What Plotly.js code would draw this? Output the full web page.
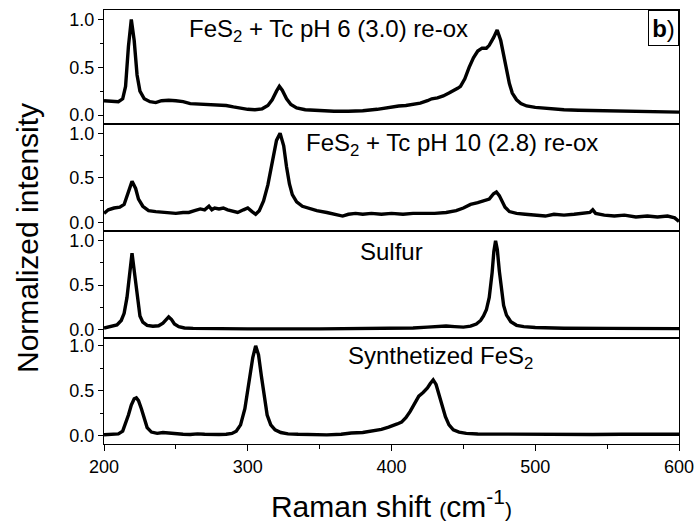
<!DOCTYPE html>
<html>
<head>
<meta charset="utf-8">
<script src="https://cdn.plot.ly/plotly-3.0.1.min.js"></script>
<style>html,body{margin:0;padding:0;background:#fff;}</style>
</head>
<body>
<div id="chart" style="width:696px;height:529px;"></div>
<script>
// ---- Data ----
const ph6X = [200,205,210,213,215,217,219,221,223,225,228,232,236,240,245,250,255,260,265,270,275,280,285,290,295,300,305,310,314,317,320,322,324,327,330,334,340,350,360,370,380,390,400,405,410,415,420,425,428,432,436,440,444,446,448,451,454,457,460,463,466,468,471,473.5,476,478,480,482,484,487,490,494,500,510,520,530,545,560,575,590,600];
const ph6Y = [0.15,0.145,0.14,0.17,0.30,0.72,1.0,0.78,0.42,0.25,0.17,0.14,0.13,0.15,0.155,0.15,0.14,0.12,0.115,0.11,0.105,0.10,0.10,0.085,0.07,0.06,0.055,0.065,0.10,0.16,0.25,0.30,0.26,0.17,0.11,0.075,0.055,0.045,0.04,0.04,0.045,0.06,0.085,0.095,0.10,0.11,0.125,0.15,0.17,0.18,0.20,0.23,0.26,0.28,0.30,0.38,0.50,0.60,0.67,0.70,0.70,0.73,0.81,0.89,0.78,0.62,0.48,0.33,0.23,0.16,0.12,0.095,0.08,0.065,0.055,0.05,0.045,0.04,0.035,0.03,0.03];

const ph10X = [200,203,207,211,214,217,219.5,222,224,227,231,236,241,246,250,255,259,263,267,270,273,275,277,280,283,286,290,293,297,300,303,305.5,308,311,314,317,320,322.5,325,327,329,331,334,338,343,348,355,362,366,370,375,380,386,393,400,408,415,422,430,438,445,450,455,460,465,468,471,473,475,477,479,482,487,493,500,507,513,520,527,533,538,540,542,548,555,562,570,578,585,592,597,600];
const ph10Y = [0.10,0.14,0.16,0.17,0.20,0.33,0.46,0.38,0.26,0.18,0.13,0.12,0.11,0.10,0.10,0.11,0.11,0.13,0.15,0.14,0.18,0.14,0.16,0.15,0.16,0.14,0.12,0.11,0.14,0.16,0.12,0.09,0.13,0.24,0.42,0.67,0.92,1.0,0.86,0.62,0.43,0.31,0.23,0.18,0.15,0.13,0.11,0.09,0.07,0.09,0.10,0.09,0.10,0.09,0.10,0.09,0.10,0.10,0.10,0.11,0.13,0.16,0.20,0.22,0.24,0.26,0.32,0.34,0.30,0.24,0.17,0.12,0.10,0.09,0.08,0.07,0.09,0.08,0.09,0.10,0.11,0.14,0.10,0.08,0.07,0.08,0.06,0.07,0.06,0.07,0.05,0.01];

const sulfurX = [200,205,209,212,214,216,217.5,219.5,221.5,223,225,227,230,234,238,241,243,245,247,249,252,256,262,270,300,350,400,415,425,432,438,444,450,455,459,462,464,466,468,470,471.2,472.4,473.6,475,476.5,478,480,483,487,492,500,520,550,600];
const sulfurY = [0.015,0.03,0.05,0.10,0.18,0.36,0.60,0.86,0.60,0.37,0.15,0.08,0.045,0.035,0.04,0.07,0.11,0.14,0.11,0.06,0.03,0.015,0.01,0.008,0.005,0.005,0.008,0.015,0.025,0.035,0.037,0.03,0.025,0.035,0.06,0.10,0.15,0.22,0.36,0.64,0.88,1.0,0.90,0.66,0.45,0.27,0.16,0.085,0.045,0.03,0.02,0.012,0.01,0.008];

const synthX = [200,205,210,213,215,217,219,221,222.5,224,226,228,230,233,237,241,245,250,255,260,265,270,275,280,285,289,292,295,298,301,303.5,305.5,307.5,309.5,311.5,313.5,316,319,323,328,335,345,355,365,372,380,387,393,398,401,404,407,410,413,416,419,422,425,427,429,431,433,435,437.5,440,443,447,452,460,480,500,520,540,560,580,600];
const synthY = [0.01,0.012,0.02,0.05,0.13,0.23,0.34,0.41,0.42,0.39,0.30,0.19,0.09,0.04,0.025,0.035,0.03,0.015,0.015,0.012,0.02,0.015,0.01,0.012,0.015,0.025,0.05,0.12,0.30,0.60,0.87,1.0,0.90,0.66,0.42,0.23,0.12,0.065,0.035,0.02,0.015,0.01,0.008,0.015,0.03,0.035,0.05,0.07,0.095,0.11,0.13,0.15,0.20,0.27,0.36,0.44,0.48,0.53,0.58,0.62,0.57,0.46,0.33,0.21,0.12,0.065,0.04,0.025,0.018,0.015,0.012,0.014,0.012,0.015,0.012,0.015];

const panelLabels = ["FeS<sub>2</sub> + Tc pH 6 (3.0) re-ox", "FeS<sub>2</sub> + Tc pH 10 (2.8) re-ox", "Sulfur", "Synthetized FeS<sub>2</sub>"];
const xTickVals = [200, 300, 400, 500, 600];
const yTickVals = [0, 0.5, 1.0];
const yTickText = ["0.0", "0.5", "1.0"];

// ---- Chart ----
const FONT = "Liberation Sans, Arial, Helvetica, sans-serif";
const series = [[ph6X, ph6Y], [ph10X, ph10Y], [sulfurX, sulfurY], [synthX, synthY]];
const traces = series.map((s, i) => ({
  x: s[0], y: s[1], type: 'scatter', mode: 'lines',
  xaxis: 'x' + (i + 1), yaxis: 'y' + (i + 1),
  line: {color: '#000', width: 3.4}, showlegend: false, hoverinfo: 'skip'
}));

const domains = [[0.7373, 1], [0.4908, 0.7373], [0.2449, 0.4908], [0, 0.2449]];
const yRanges = [[-0.094, 1.10], [-0.098, 1.104], [-0.095, 1.11], [-0.093, 1.09]];

const layout = {
  width: 696, height: 529,
  margin: {l: 104, r: 17, t: 10, b: 85},
  paper_bgcolor: '#fff', plot_bgcolor: '#fff',
  font: {family: FONT, color: '#000'},
  showlegend: false,
  annotations: [],
};

for (let i = 0; i < 4; i++) {
  const n = i + 1;
  const last = (i === 3);
  const xa = {
    anchor: 'y' + n, range: [200, 600], domain: [0, 1],
    showline: true, mirror: true, linecolor: '#000', linewidth: 1,
    showgrid: false, zeroline: false,
    showticklabels: last, ticks: last ? 'outside' : '',
    tickvals: xTickVals, ticklen: 6, tickwidth: 1, tickcolor: '#000',
    tickfont: {size: 18, family: FONT, color: '#000'}
  };
  if (last) {
    xa.minor = {tickvals: [250, 350, 450, 550], ticks: 'outside', ticklen: 4, tickwidth: 1, tickcolor: '#000', showgrid: false};
    xa.title = {text: "Raman shift <span style='font-size:21px'>(</span>cm<sup>-1</sup><span style='font-size:21px'>)</span>", font: {size: 30, family: FONT, color: '#000'}, standoff: 20};
  }
  layout['xaxis' + n] = xa;
  layout['yaxis' + n] = {
    anchor: 'x' + n, domain: domains[i], range: yRanges[i],
    showline: true, mirror: true, linecolor: '#000', linewidth: 1,
    showgrid: false, zeroline: false,
    ticks: 'outside', ticklen: 5, tickwidth: 1, tickcolor: '#000',
    tickvals: yTickVals, ticktext: yTickText,
    tickfont: {size: 18, family: FONT, color: '#000'},
    minor: {tickvals: [0.25, 0.75], ticks: 'outside', ticklen: 3, tickwidth: 1, tickcolor: '#000', showgrid: false}
  };
}

// panel labels
const labelPos = [[257.6, 0.89], [339.4, 0.87], [400, 0.88], [368.3, 0.873]];
const labelAnchor = ['left', 'left', 'center', 'left'];
for (let i = 0; i < 4; i++) {
  layout.annotations.push({
    xref: 'x' + (i + 1), yref: 'y' + (i + 1),
    x: labelPos[i][0], y: labelPos[i][1],
    xanchor: labelAnchor[i], yanchor: 'middle',
    text: panelLabels[i], showarrow: false,
    font: {size: 24, family: FONT, color: '#000'}
  });
}
// y title
layout.annotations.push({
  xref: 'paper', yref: 'paper', x: (28 - 104) / 575, y: (444 - 238) / 434,
  xanchor: 'center', yanchor: 'middle', textangle: -90,
  text: 'Normalized intensity', showarrow: false,
  font: {size: 30, family: FONT, color: '#000'}
});
// panel tag
layout.annotations.push({
  xref: 'paper', yref: 'paper', x: 1, y: 1, xanchor: 'right', yanchor: 'top',
  text: '<b>b</b>)', showarrow: false, width: 29, height: 34, borderpad: 0,
  bordercolor: '#000', borderwidth: 1, bgcolor: '#fff',
  font: {size: 24, family: FONT, color: '#000'}
});

Plotly.newPlot('chart', traces, layout, {displayModeBar: false, staticPlot: true});
</script>
</body>
</html>
